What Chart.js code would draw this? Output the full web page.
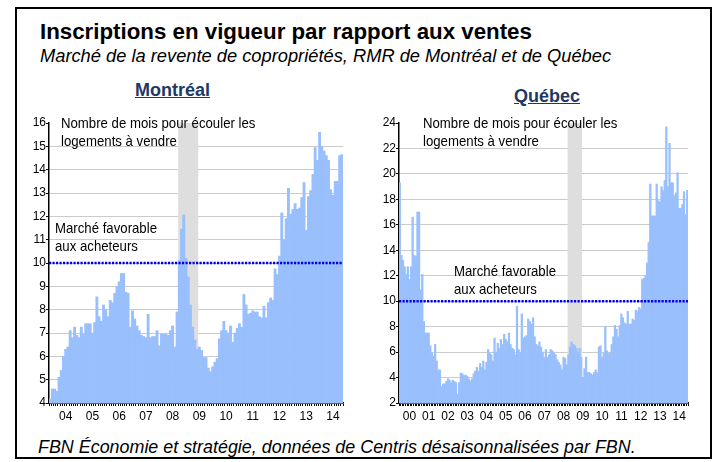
<!DOCTYPE html>
<html>
<head>
<meta charset="utf-8">
<script src="https://cdn.jsdelivr.net/npm/chart.js@4.4.1/dist/chart.umd.min.js"></script>
<style>
  body { margin: 0; background: #fff; width: 717px; height: 462px; overflow: hidden; position: relative;
         font-family: "Liberation Sans", Arial, sans-serif; color: #000; }
  .frame { position: absolute; left: 15px; top: 7px; width: 697px; height: 452px; border: 2px solid #000; box-sizing: border-box; }
  .txt { position: absolute; white-space: nowrap; }
  .title { left: 40px; top: 21px; font-size: 22.3px; line-height: 22px; font-weight: bold; }
  .sub { left: 40px; top: 47px; font-size: 18.3px; line-height: 18px; font-style: italic; }
  .city { font-size: 18px; line-height: 18px; font-weight: bold; color: #1f3864; text-decoration: underline; }
  .foot { left: 38px; top: 438px; font-size: 17.9px; line-height: 18px; font-style: italic; }
  .note { font-size: 15px; line-height: 17.5px; transform: scaleX(0.88); transform-origin: left top; }
  canvas { position: absolute; }
</style>
</head>
<body>
<div class="frame"></div>
<div class="txt title">Inscriptions en vigueur par rapport aux ventes</div>
<div class="txt sub">Marché de la revente de copropriétés, RMR de Montréal et de Québec</div>
<div class="txt city" style="left:135px;top:81px">Montréal</div>
<div class="txt city" style="left:514px;top:87px">Québec</div>

<canvas id="mtl" width="330" height="315" style="left:20px;top:115px"></canvas>
<canvas id="qc" width="330" height="315" style="left:370px;top:115px"></canvas>

<div class="txt note" style="left:61px;top:114px">Nombre de mois pour écouler les<br>logements à vendre</div>
<div class="txt note" style="left:55px;top:219px">Marché favorable<br>aux acheteurs</div>
<div class="txt note" style="left:423px;top:114px">Nombre de mois pour écouler les<br>logements à vendre</div>
<div class="txt note" style="left:454px;top:262px">Marché favorable<br>aux acheteurs</div>

<div class="txt foot">FBN Économie et stratégie, données de Centris désaisonnalisées par FBN.</div>

<script>
// --- Data ---
// Montréal: monthly, Dec 2003 -> Nov 2014
const mtlStart = [2003, 12];
const mtlValues = [
  4.15, 4.6, 4.6, 4.5, 5.1, 5.4, 6.0, 6.3, 6.4, 7.1,
  6.8, 7.25, 6.9, 6.8, 7.25, 6.95, 7.4, 7.4, 7.4, 7.0,
  7.45, 8.55, 7.7, 7.5, 8.2, 8.0, 7.7, 8.4, 8.3, 8.7,
  9.0, 9.2, 9.55, 9.55, 8.75, 8.7, 7.25, 7.95, 7.6, 7.3,
  7.1, 6.9, 6.85, 6.8, 7.8, 6.8, 6.85, 6.85, 7.1, 6.45,
  6.95, 6.95, 6.95, 6.9, 7.1, 7.3, 6.4, 7.9, 10.1, 11.45,
  12.05, 10.2, 9.4, 8.2, 7.25, 6.7, 6.3, 6.4, 6.25, 5.95,
  5.95, 5.5, 5.35, 5.55, 5.75, 5.9, 6.75, 7.1, 7.5, 7.1,
  7.0, 7.3, 6.6, 7.0, 7.2, 7.4, 7.25, 8.65, 8.2, 7.8,
  7.85, 7.95, 7.9, 7.9, 7.7, 7.65, 8.15, 7.65, 8.3, 8.5,
  8.4, 9.75, 9.5, 10.3, 12.15, 11.0, 11.9, 13.2, 12.1, 12.3,
  12.55, 12.3, 12.35, 12.8, 13.45, 11.4, 12.85, 13.1, 13.8, 14.95,
  14.4, 15.6, 15.0, 14.8, 14.6, 14.4, 13.15, 12.9, 13.5, 13.5,
  14.6, 14.65
];

// Québec: monthly, Jan 2000 -> Dec 2014
const qcStart = [2000, 1];
const qcValues = [
  19.3, 13.6, 13.2, 12.7, 12.1, 12.7, 11.7, 12.7, 16.6, 13.6,
  13.5, 17.0, 17.0, 10.9, 12.1, 8.4, 7.5, 7.5, 7.5, 6.5,
  5.9, 5.7, 6.6, 5.3, 4.6, 4.6, 3.3, 3.5, 3.5, 3.7,
  3.9, 3.8, 3.6, 3.8, 3.7, 3.6, 2.7, 3.6, 4.35, 4.3,
  4.15, 4.2, 4.1, 3.9, 3.75, 3.9, 4.3, 4.5, 4.8, 4.5,
  5.1, 4.8, 5.3, 4.6, 5.2, 6.2, 5.9, 5.8, 5.3, 7.1,
  6.0, 6.7, 6.3, 7.0, 6.6, 7.4, 7.0, 6.8, 7.5, 6.6,
  6.3, 6.2, 5.8, 9.6, 6.2, 6.0, 9.0, 7.1, 7.2, 7.3,
  8.6, 8.4, 8.2, 8.7, 7.2, 6.6, 6.5, 6.8, 6.4, 6.0,
  5.6, 6.2, 5.6, 5.8, 6.2, 6.1, 5.9, 5.8, 5.4, 5.2,
  5.0, 4.6, 5.6, 5.5, 5.0, 5.8, 6.4, 6.8, 6.6, 6.5,
  6.3, 6.0, 6.3, 5.6, 4.0, 4.7, 5.6, 4.4, 4.4, 4.3,
  4.2, 4.4, 4.6, 4.4, 6.4, 6.5, 5.6, 5.9, 8.0, 6.1,
  5.9, 6.0, 6.6, 7.2, 8.1, 7.8, 7.2, 8.1, 9.0, 8.7,
  8.3, 8.2, 9.2, 8.2, 8.2, 8.6, 8.5, 9.3, 9.2, 9.5,
  9.4, 11.7, 11.8, 12.0, 13.0, 14.6, 19.2, 16.7, 16.7, 16.7,
  19.2, 17.9, 17.8, 19.0, 18.7, 19.5, 23.7, 19.0, 22.4, 19.3,
  19.3, 18.3, 18.5, 20.1, 17.3, 17.3, 17.6, 18.6, 16.8, 18.7
];

const recession = ["2008-10", "2009-06"];   // shaded period
const buyersThreshold = 10;                 // "Marché favorable aux acheteurs"

// --- Helpers ---
const monthLabels = (start, n) => {
  const out = [];
  let [y, m] = start;
  for (let i = 0; i < n; i++) {
    out.push(y + "-" + String(m).padStart(2, "0"));
    m++; if (m > 12) { m = 1; y++; }
  }
  return out;
};

const TICK_FONT = { family: "'Liberation Sans Narrow', 'Liberation Sans', Arial", size: 12 };

// gray recession band + dotted threshold line
const bandPlugin = {
  id: "band",
  beforeDatasetsDraw(chart, args, opts) {
    const { ctx, chartArea, scales: { x } } = chart;
    const labels = chart.data.labels;
    const i0 = labels.indexOf(opts.from), i1 = labels.indexOf(opts.to);
    const half = (x.getPixelForValue(1) - x.getPixelForValue(0)) / 2;
    const left = x.getPixelForValue(i0) - half;
    const right = x.getPixelForValue(i1) + half;
    ctx.save();
    ctx.fillStyle = "#dedede";
    ctx.fillRect(left, chartArea.top, right - left, chartArea.bottom - chartArea.top);
    ctx.restore();
  },
  afterDatasetsDraw(chart, args, opts) {
    const { ctx, chartArea, scales: { y } } = chart;
    const yy = y.getPixelForValue(opts.threshold);
    ctx.save();
    ctx.strokeStyle = "#0000e0";
    ctx.lineWidth = 2.5;
    ctx.setLineDash([2.2, 1.3]);
    ctx.beginPath();
    ctx.moveTo(chartArea.left, yy);
    ctx.lineTo(chartArea.right, yy);
    ctx.stroke();
    ctx.restore();
  }
};

function makeChart(id, start, values, yMin, yMax, yStep, padRight) {
  const labels = monthLabels(start, values.length);
  return new Chart(document.getElementById(id), {
    type: "bar",
    data: {
      labels,
      datasets: [{
        data: values,
        backgroundColor: "#99bffc",
        borderWidth: 0,
        barPercentage: 1,
        categoryPercentage: 1,
      }],
    },
    options: {
      responsive: false,
      animation: false,
      layout: { padding: { top: 8, right: padRight, left: 0, bottom: 0 } },
      plugins: {
        legend: { display: false },
        tooltip: { enabled: false },
        band: { from: recession[0], to: recession[1], threshold: buyersThreshold },
      },
      scales: {
        x: {
          afterFit: s => { s.height = 27; },
          grid: { drawOnChartArea: false, color: "#000", tickLength: 3 },
          border: { color: "#000", width: 1.5 },
          ticks: {
            autoSkip: false, maxRotation: 0, minRotation: 0, padding: 3,
            color: "#000", font: TICK_FONT,
            callback(v) {
              const l = this.getLabelForValue(v);
              return l.endsWith("-07") ? l.slice(2, 4) : "";
            },
          },
        },
        y: {
          min: yMin, max: yMax,
          afterFit: s => { s.width = 29; },
          grid: {
            color: c => (c.tick && c.tick.value === yMax ? "rgba(0,0,0,0)" : "#cbcbcb"),
            tickColor: "#000", tickLength: 3,
          },
          border: { color: "#000", width: 1.5 },
          ticks: { stepSize: yStep, padding: 0, color: "#000", font: TICK_FONT },
        },
      },
    },
    plugins: [bandPlugin],
  });
}

makeChart("mtl", mtlStart, mtlValues, 4, 16, 1, 7);
makeChart("qc", qcStart, qcValues, 2, 24, 2, 12);
</script>
</body>
</html>
